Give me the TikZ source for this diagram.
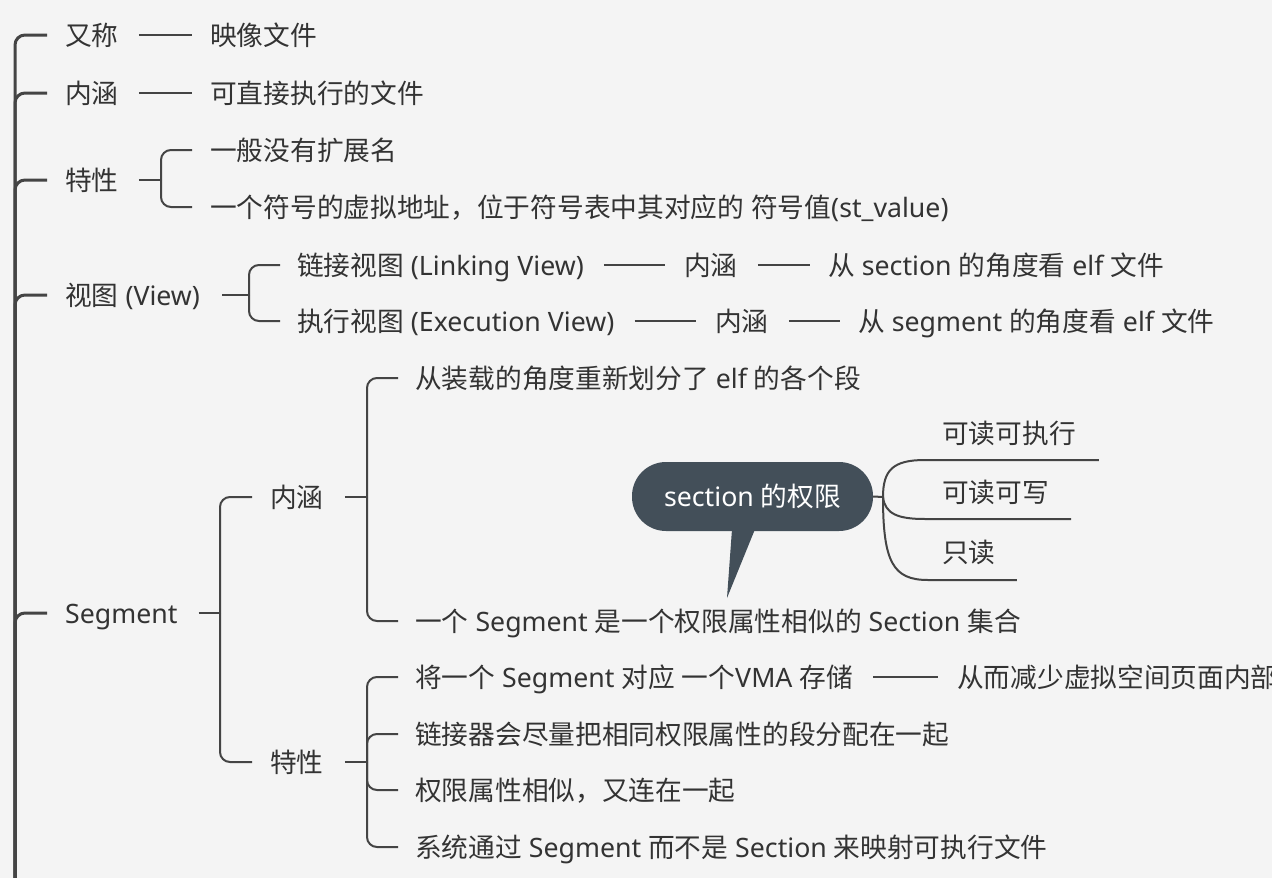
\documentclass[tikz,border=0pt]{standalone}
\usepackage{fontspec}
\setmainfont{Noto Sans CJK SC}
\newfontfamily\latf{Noto Sans}
\newcommand\latin[1]{{\latf #1}}
\usetikzlibrary{calc}
\definecolor{bg}{HTML}{F4F4F4}
\definecolor{ink}{HTML}{333333}
\definecolor{linec}{HTML}{444444}
\definecolor{bubble}{HTML}{434F59}
\begin{document}
\begin{tikzpicture}[x=1pt,y=-1pt,
  txt/.style={anchor=west,inner sep=0pt,text height=23.5pt,text depth=3pt,text=ink,font=\fontsize{26.7}{30}\selectfont},
  conn/.style={draw=linec,line width=2pt},
  elbow/.style={conn,rounded corners=10pt},
  spine/.style={draw=linec,line width=3pt,rounded corners=10pt},
  bubblebox/.style={fill=bubble,rounded corners=34pt,minimum width=241pt,minimum height=69pt,inner sep=0pt,text=white,font=\fontsize{26.7}{30}\selectfont},
]
\useasboundingbox (0,0) rectangle (1272,878);
\clip (0,0) rectangle (1272,878);
\fill[bg] (0,0) rectangle (1272,878);

% level 1
\node[txt] (yc) at (65,35) {又称};
\node[txt] (nh) at (65,93) {内涵};
\node[txt] (tx) at (65,180) {特性};
\node[txt] (st) at (65,295) {视图\latin{ (View)}};
\node[txt] (sg) at (65,613) {\latin{Segment}};
\coordinate (root) at (15,930);
\foreach \n in {yc,nh,tx,st,sg} \draw[spine] (root) |- ($(\n.west)+(-18,0)$);

% 又称 / 内涵
\node[txt] (yxwj) at (210,35) {映像文件};
\draw[conn] ($(yc.east)+(20,0)$) -- ($(yxwj.west)+(-18,0)$);
\node[txt] (kzj) at (210,93) {可直接执行的文件};
\draw[conn] ($(nh.east)+(20,0)$) -- ($(kzj.west)+(-18,0)$);

% 特性
\node[txt] (tx1) at (210,150) {一般没有扩展名};
\node[txt] (tx2) at (210,207) {一个符号的虚拟地址，位于符号表中其对应的\latin{ }符号值\latin{(st\_value)}};
\coordinate (txj) at (161,180);
\draw[conn] ($(tx.east)+(20,0)$) -- (txj);
\foreach \n in {tx1,tx2} \draw[elbow] (txj) |- ($(\n.west)+(-18,0)$);

% 视图
\node[txt] (lk) at (297,265) {链接视图\latin{ (Linking View)}};
\node[txt] (ex) at (297,321) {执行视图\latin{ (Execution View)}};
\coordinate (stj) at (249,295);
\draw[conn] ($(st.east)+(22,0)$) -- (stj);
\foreach \n in {lk,ex} \draw[elbow] (stj) |- ($(\n.west)+(-17,0)$);
\node[txt] (lknh) at (684,265) {内涵};
\node[txt] (lkd) at (828,265) {从\latin{ section }的角度看\latin{ elf }文件};
\draw[conn] ($(lk.east)+(20,0)$) -- ($(lknh.west)+(-19,0)$);
\draw[conn] ($(lknh.east)+(20,0)$) -- ($(lkd.west)+(-18,0)$);
\node[txt] (exnh) at (715,321) {内涵};
\node[txt] (exd) at (858,321) {从\latin{ segment }的角度看\latin{ elf }文件};
\draw[conn] ($(ex.east)+(20,0)$) -- ($(exnh.west)+(-19,0)$);
\draw[conn] ($(exnh.east)+(20,0)$) -- ($(exd.west)+(-18,0)$);

% Segment
\node[txt] (snh) at (270,497) {内涵};
\node[txt] (stx) at (270,762) {特性};
\coordinate (sgj) at (220,613);
\draw[conn] ($(sg.east)+(21,0)$) -- (sgj);
\foreach \n in {snh,stx} \draw[elbow] (sgj) |- ($(\n.west)+(-18,0)$);

\node[txt] (sa) at (415,378) {从装载的角度重新划分了\latin{ elf }的各个段};
\node[txt] (sb) at (415,621) {一个\latin{ Segment }是一个权限属性相似的\latin{ Section }集合};
\coordinate (snhj) at (367,497);
\draw[conn] ($(snh.east)+(21,0)$) -- (snhj);
\foreach \n in {sa,sb} \draw[elbow] (snhj) |- ($(\n.west)+(-17,0)$);

\node[txt] (t1) at (415,677) {将一个\latin{ Segment }对应\latin{ }一个\latin{VMA }存储};
\node[txt] (t2) at (415,734) {链接器会尽量把相同权限属性的段分配在一起};
\node[txt] (t3) at (415,790) {权限属性相似，又连在一起};
\node[txt] (t4) at (415,847) {系统通过\latin{ Segment }而不是\latin{ Section }来映射可执行文件};
\coordinate (stxj) at (367,762);
\draw[conn] ($(stx.east)+(21,0)$) -- (stxj);
\foreach \n in {t1,t2,t3,t4} \draw[elbow] (stxj) |- ($(\n.west)+(-17,0)$);
\node[txt] (t1b) at (957,677) {从而减少虚拟空间页面内部};
\draw[conn] ($(t1.east)+(20,0)$) -- ($(t1b.west)+(-19,0)$);

% callout
\node[bubblebox] (cb) at (752.5,496.5) {\latin{section }的权限};
\coordinate (tip) at (727,598);
\fill[bubble] ($(cb.south)+(-20.5,-2)$) -- ($(cb.south)+(2.5,-2)$) -- (tip) -- cycle;
\node[txt] (r1) at (942,433) {可读可执行};
\node[txt] (r2) at (942,492) {可读可写};
\node[txt] (r3) at (942,552) {只读};
\coordinate (cbj) at (883,497);
\draw[conn] (cb.east) -- (cbj);
\draw[conn] (cbj) .. controls (883,470) and (893,460) .. (925,460) -- ($(r1.east)+(23,27)$);
\draw[conn] (cbj) .. controls (885,514) and (898,519) .. (925,519) -- ($(r2.east)+(22,27)$);
\draw[conn] (cbj) .. controls (883,562) and (893,580) .. (928,580) -- ($(r3.east)+(21,28)$);
\end{tikzpicture}
\end{document}
